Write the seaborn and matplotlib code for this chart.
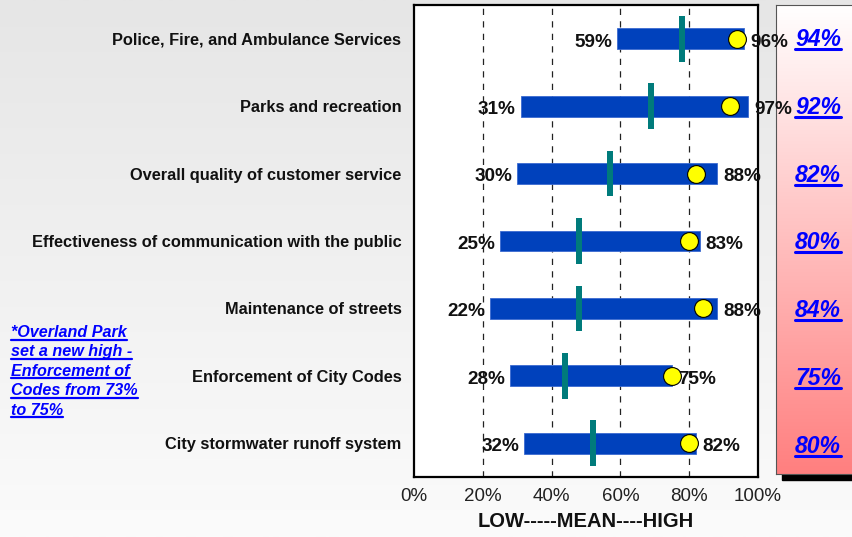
import numpy as np
import pandas as pd
import matplotlib
matplotlib.use('Agg')
import matplotlib.pyplot as plt
import seaborn as sns
from matplotlib.colors import LinearSegmentedColormap
from matplotlib.patches import Rectangle
from matplotlib.lines import Line2D

# Chart data
services = [
    'Police, Fire, and Ambulance Services',
    'Parks and recreation',
    'Overall quality of customer service',
    'Effectiveness of communication with the public',
    'Maintenance of streets',
    'Enforcement of City Codes',
    'City stormwater runoff system',
]
low = [59, 31, 30, 25, 22, 28, 32]
high = [96, 97, 88, 83, 88, 75, 82]
mean = [78, 69, 57, 48, 48, 44, 52]
overland_park = [94, 92, 82, 80, 84, 75, 80]
x_ticks = [0, 20, 40, 60, 80, 100]
note_lines = ['*Overland Park', 'set a new high -', 'Enforcement of',
              'Codes from 73%', 'to 75%']

df = pd.DataFrame({'service': services, 'low': low, 'high': high,
                   'mean': mean, 'op': overland_park})
df['row'] = range(len(df))

sns.set_theme(style='white')
plt.rcParams['font.family'] = ['Liberation Sans', 'DejaVu Sans']

W, H = 853, 537
fig = plt.figure(figsize=(W / 100, H / 100), dpi=100)


def px_box(x0, y0, x1, y1):
    # pixel box (top-left origin) -> figure fraction rect
    return [x0 / W, 1 - y1 / H, (x1 - x0) / W, (y1 - y0) / H]


# background gradient
bg = fig.add_axes([0, 0, 1, 1], zorder=-10)
bg_cmap = LinearSegmentedColormap.from_list('bg', ['#e6e6e6', '#fbfbfb'])
bg.imshow(np.linspace(0, 1, 256).reshape(-1, 1), aspect='auto', cmap=bg_cmap,
          extent=[0, 1, 0, 1], origin='upper')
bg.axis('off')

# right panel with shadow
fig.patches.append(Rectangle((782 / W, 1 - 480 / H), 80 / W, 469 / H,
                             transform=fig.transFigure, color='black', zorder=-5))
panel = fig.add_axes(px_box(776, 5, 860, 474), zorder=-4)
panel_cmap = LinearSegmentedColormap.from_list('pn', ['#ffffff', '#ff7f7f'])
panel.imshow(np.linspace(0, 1, 256).reshape(-1, 1), aspect='auto',
             cmap=panel_cmap, extent=[0, 1, 0, 1], origin='upper')
panel.set_xticks([])
panel.set_yticks([])
for s in panel.spines.values():
    s.set_color('#555555')
    s.set_linewidth(0.8)

# main axes
ax = fig.add_axes(px_box(414, 5, 758, 477))
ax.set_facecolor('white')
ax.set_xlim(0, 100)
ax.set_ylim(6.5, -0.5)

for g in [20, 40, 60, 80]:
    ax.axvline(g, color='#222222', lw=0.9, ls=(0, (5, 5)), zorder=1)

ax.barh(df['row'], df['high'] - df['low'], left=df['low'], height=0.31,
        color='#0041bc', edgecolor='#3a6ad0', lw=0.6, zorder=2)
ax.barh(df['row'], 1.8, left=df['mean'] - 0.9, height=0.68,
        color='#007b7b', lw=0, zorder=3)
sns.scatterplot(data=df, x='op', y='row', ax=ax, s=165, color='#ffff00',
                edgecolor='black', linewidth=0.8, zorder=4, legend=False)

for _, r in df.iterrows():
    ax.annotate(f"{r['low']}%", (r['low'], r['row']), xytext=(-3.5, -1),
                textcoords='offset points', ha='right', va='center_baseline',
                fontsize=13.6, fontweight='bold', color='#111111', zorder=5)
    ax.annotate(f"{r['high']}%", (r['high'], r['row']), xytext=(4.5, -1),
                textcoords='offset points', ha='left', va='center_baseline',
                fontsize=13.6, fontweight='bold', color='#111111', zorder=5,
                annotation_clip=False)
    ax.annotate(r['service'], (0, r['row']), xycoords=('axes fraction', 'data'),
                xytext=(-9, 0), textcoords='offset points', ha='right',
                va='center_baseline', fontsize=11.8, fontweight='bold',
                color='#111111')

ax.set_xticks(x_ticks)
ax.set_xticklabels([f'{t}%' for t in x_ticks], fontsize=13.5, color='#222222')
ax.set_yticks([])
ax.tick_params(axis='x', length=0, pad=8)
ax.set_xlabel('LOW-----MEAN----HIGH', fontsize=14.5, fontweight='bold',
              color='#111111', labelpad=5)
ax.set_ylabel('')
for s in ax.spines.values():
    s.set_visible(True)
    s.set_color('black')
    s.set_linewidth(1.6)

# right column and footnote texts (underlined)
blue = '#0000ff'
under = []
for i, v in enumerate(overland_park):
    y_px = 38 + i * 67.8 + 8
    t = fig.text(818 / W, 1 - y_px / H, f'{v}%', ha='center', va='baseline',
                 fontsize=16.6, fontweight='bold', fontstyle='italic', color=blue)
    under.append((t, y_px + 3, 2.2))

for i, line in enumerate(note_lines):
    y_px = 337 + i * 19.4
    t = fig.text(11 / W, 1 - y_px / H, line, ha='left', va='baseline',
                 fontsize=11.6, fontweight='bold', fontstyle='italic', color=blue)
    under.append((t, y_px + 2.5, 1.6))

fig.canvas.draw()
rend = fig.canvas.get_renderer()
for t, y_px, lw in under:
    bb = t.get_window_extent(rend)
    yf = 1 - y_px / H
    fig.lines.append(Line2D([bb.x0 / W, bb.x1 / W], [yf, yf], color=blue,
                            lw=lw, transform=fig.transFigure))

fig.savefig('out.png', dpi=100)
